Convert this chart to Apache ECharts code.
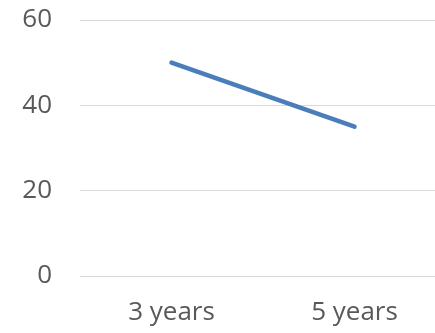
<!DOCTYPE html>
<html><head><meta charset="utf-8">
<script src="https://cdn.jsdelivr.net/npm/echarts@6/dist/echarts.min.js"></script>
<style>html,body{margin:0;padding:0;background:#fff;overflow:hidden}#c{width:446px;height:333px}</style>
</head><body><div id="c"></div>
<script>
const categories = ['3 years', '5 years'];
const values = [50, 35];
const yTicks = { min: 0, max: 60, interval: 20 };

const chart = echarts.init(document.getElementById('c'), null, { renderer: 'canvas' });
chart.setOption({
  animation: false,
  grid: { left: 80, top: 20, right: 0, bottom: 57, containLabel: false },
  xAxis: {
    type: 'category', data: categories, boundaryGap: true,
    axisLine: { show: false }, axisTick: { show: false },
    axisLabel: { color: '#595959', fontSize: 26, fontFamily: 'Open Sans', margin: 24 }
  },
  yAxis: {
    type: 'value', min: yTicks.min, max: yTicks.max, interval: yTicks.interval,
    axisLine: { show: false }, axisTick: { show: false },
    splitLine: { lineStyle: { color: '#d9d9d9', width: 1 } },
    axisLabel: { color: '#595959', fontSize: 26, fontFamily: 'Open Sans', margin: 28 }
  },
  series: [{
    type: 'line', data: values, symbol: 'none',
    lineStyle: { color: '#4a7ebb', width: 4.5, cap: 'round' }
  }]
});
</script></body></html>
